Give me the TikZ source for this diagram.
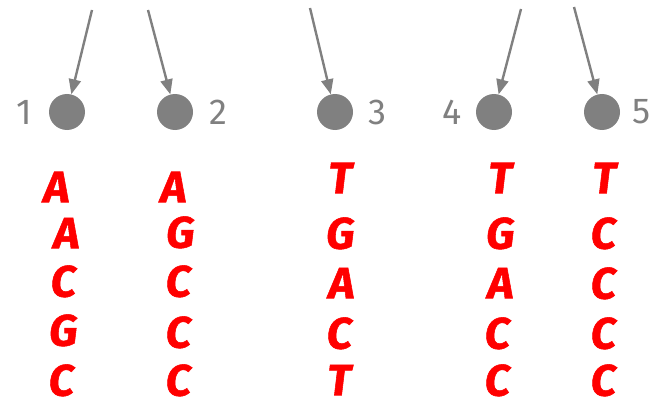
\documentclass[tikz,border=0pt]{standalone}
\usepackage{fontspec}
\setmainfont{Fira Sans}
\newfontfamily\ntfont[FakeSlant=0.12,FakeBold=1.2]{Fira Sans Bold}
\usetikzlibrary{arrows.meta}
\definecolor{pin}{RGB}{128,128,128}
\definecolor{base}{RGB}{255,0,0}
\tikzset{
  site/.style={circle,fill=pin,minimum size=36pt,inner sep=0pt},
  idx/.style={text=pin,font=\fontsize{36}{36}\selectfont,inner sep=0pt},
  nt/.style={text=base,font=\fontsize{44}{44}\ntfont,inner sep=0pt,text depth=0pt},
  pointer/.style={draw=pin,line width=2.4pt,-{Triangle[length=15pt,width=12pt]}}
}
\begin{document}
\begin{tikzpicture}[x=1pt,y=-1pt]
\useasboundingbox (0,0) rectangle (658,401);
% sites
\node[site] (c1) at (67,112) {};
\node[site] (c2) at (175,112) {};
\node[site] (c3) at (335,112) {};
\node[site] (c4) at (494,112) {};
\node[site] (c5) at (602,112) {};
% site numbers
\node[idx] (n1) at (24,112) {1};
\node[idx] (n2) at (218,112) {2};
\node[idx] (n3) at (377,112) {3};
\node[idx] (n4) at (452,112) {4};
\node[idx] (n5) at (642,112) {5};
% incoming pointers
\coordinate (s1) at (92,10);
\coordinate (s2) at (148,10);
\coordinate (s3) at (310,8);
\coordinate (s4) at (521,9);
\coordinate (s5) at (574,7);
\draw[pointer] (s1) -- (c1);
\draw[pointer] (s2) -- (c2);
\draw[pointer] (s3) -- (c3);
\draw[pointer] (s4) -- (c4);
\draw[pointer] (s5) -- (c5);
% sequence columns
\node[nt] (a1) at (55,187) {A};
\node[nt] (a2) at (65,233) {A};
\node[nt] (a3) at (62,281) {C};
\node[nt] (a4) at (62,330) {G};
\node[nt] (a5) at (60,380) {C};
\node[nt] (b1) at (172,187) {A};
\node[nt] (b2) at (179,232) {G};
\node[nt] (b3) at (177,281) {C};
\node[nt] (b4) at (177,332) {C};
\node[nt] (b5) at (177,380) {C};
\node[nt] (d1) at (339,178) {T};
\node[nt] (d2) at (339,233) {G};
\node[nt] (d3) at (340,283) {A};
\node[nt] (d4) at (338,333) {C};
\node[nt] (d5) at (338,380) {T};
\node[nt] (e1) at (499,178) {T};
\node[nt] (e2) at (499,233) {G};
\node[nt] (e3) at (499,283) {A};
\node[nt] (e4) at (496,333) {C};
\node[nt] (e5) at (496,380) {C};
\node[nt] (f1) at (603,178) {T};
\node[nt] (f2) at (602,233) {C};
\node[nt] (f3) at (602,283) {C};
\node[nt] (f4) at (602,333) {C};
\node[nt] (f5) at (602,380) {C};
\end{tikzpicture}
\end{document}
